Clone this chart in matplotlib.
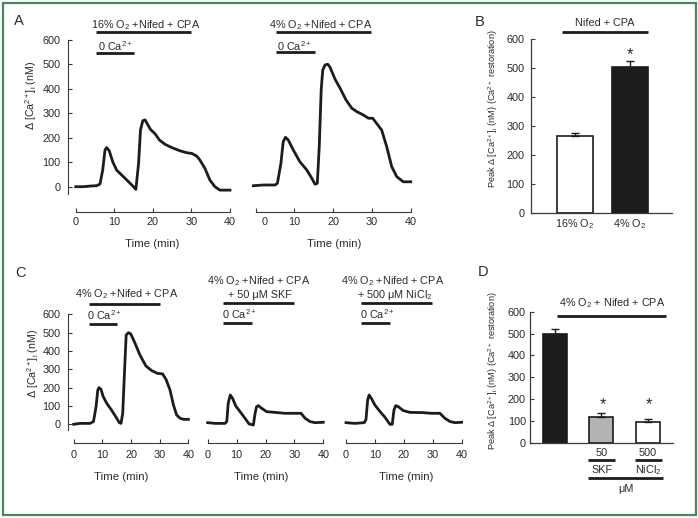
import matplotlib.pyplot as plt
from matplotlib.patches import Rectangle

plt.rcParams['font.family'] = ['Liberation Sans', 'DejaVu Sans']
plt.rcParams['mathtext.fontset'] = 'custom'
plt.rcParams['mathtext.rm'] = 'Liberation Sans'
plt.rcParams['mathtext.it'] = 'Liberation Sans:italic'
plt.rcParams['mathtext.bf'] = 'Liberation Sans:bold'

W, H = 698, 518
INK = '#1c1c1c'
TXT = '#2a2a2a'
AXC = '#3a3a3a'
GREEN = '#3f8a5e'
FS = 7.8

# traces: time (min) and delta [Ca2+]i (nM)
a1_t = [0, 2, 4, 5.4, 6.3, 7.0, 7.6, 8.0, 8.7, 9.6, 10.6, 11.9, 13.4, 14.8, 15.6, 16.3, 16.8, 17.4,
        18.0, 18.6, 19.4, 20.6, 21.7, 23.2, 24.9, 27.0, 28.8, 30.1, 31.4, 32.2, 33.5, 34.8, 36.1, 37.4, 40]
a1_v = [0, 0, 3, 4, 11, 68, 150, 160, 147, 102, 68, 48, 25, 3, -11, 95, 232, 270,
        273, 256, 234, 216, 191, 173, 160, 147, 139, 136, 125, 109, 75, 27, 0, -14, -14]

a2_t = [-0.6, 2, 5, 5.6, 6.5, 7.1, 7.7, 8.4, 9.7, 11.4, 13.2, 14.5, 15.3, 15.9, 16.4, 16.9, 17.3, 17.9,
        18.6, 19.2, 20.5, 21.8, 23.3, 24.8, 26.1, 27.8, 29.1, 30.2, 31.2, 32.5, 33.8, 35.1, 36.4, 38.1, 40]
a2_v = [4, 7, 7, 14, 95, 184, 202, 191, 150, 102, 68, 34, 10, 14, 164, 396, 477, 498,
        501, 488, 439, 402, 355, 321, 307, 293, 280, 280, 259, 232, 164, 82, 41, 20, 20]

c1_t = [0, 2.2, 5.7, 6.9, 7.8, 8.4, 8.8, 9.5, 10.3, 11.5, 13.3, 15.0, 15.9, 16.5, 17.1, 17.7, 18.3,
        19.1, 19.9, 21.4, 23.1, 25.2, 27.2, 29.2, 31.0, 32.2, 33.6, 34.8, 35.9, 37.1, 38.3, 40]
c1_v = [0, 5, 5, 15, 96, 187, 200, 191, 151, 115, 75, 33, 9, 5, 60, 278, 487,
        500, 493, 442, 378, 318, 293, 278, 275, 245, 187, 105, 51, 33, 27, 27]

c2_t = [0, 2.5, 6.0, 6.6, 7.1, 7.8, 8.6, 9.7, 11.2, 12.9, 14.3, 15.8, 16.4, 16.9, 17.5, 18.7, 20.4,
        23.3, 26.7, 29.6, 32.3, 33.7, 35.4, 37.1, 40]
c2_v = [9, 5, 5, 15, 115, 160, 142, 100, 69, 33, 2, -4, 60, 96, 102, 87, 69,
        65, 60, 60, 60, 33, 15, 9, 11]

c3_t = [0, 3.1, 6.3, 6.9, 7.5, 8.0, 8.9, 10.0, 11.8, 13.5, 15.2, 16.0, 16.6, 17.2, 18.1, 19.8,
        22.1, 26.2, 29.6, 32.5, 34.2, 36.0, 37.7, 40]
c3_v = [9, 5, 9, 24, 133, 160, 138, 105, 69, 38, 0, 0, 78, 102, 96, 75,
        65, 64, 60, 60, 33, 15, 9, 11]

# condition windows (min)
drug_win = [5.3, 30.0]
ca_win = [5.3, 15.2]

# peak values (Ca2+ restoration)
b_labels = ['16% O$_2$', '4% O$_2$']
b_vals = [266, 505]
b_err = [12, 20]
b_colors = ['white', INK]

d_vals = [500, 119, 93]
d_err = [22, 15, 15]
d_colors = [INK, '#b3b3b3', 'white']

fig = plt.figure(figsize=(W / 100, H / 100), dpi=100)
fig.patches.append(Rectangle((3 / W, 1 - 515 / H), 693 / W, 512 / H, transform=fig.transFigure,
                             fill=False, ec=GREEN, lw=1.6))


def axes_px(t0, sx, y0, sy, xlim, ylim):
    l = t0 + xlim[0] * sx
    r = t0 + xlim[1] * sx
    top = y0 - ylim[1] * sy
    bot = y0 - ylim[0] * sy
    ax = fig.add_axes([l / W, 1 - bot / H, (r - l) / W, (bot - top) / H])
    ax.set_xlim(xlim)
    ax.set_ylim(ylim)
    ax.patch.set_visible(False)
    return ax


def ptxt(x, y, s, size=FS, **kw):
    kw.setdefault('ha', 'center')
    kw.setdefault('va', 'center')
    fig.text(x / W, 1 - y / H, s, fontsize=size, color=TXT, **kw)


def hbar(ax, x0, x1, ypx, lw=2.0):
    y = ax.transData.inverted().transform((0, H - ypx))[1]
    ax.plot([x0, x1], [y, y], color=INK, lw=lw, clip_on=False, solid_capstyle='butt')


def trace(ax, t, v, yaxis, xpad):
    ax.plot(t, v, color=INK, lw=2.0, solid_joinstyle='round')
    for s in ['top', 'right']:
        ax.spines[s].set_visible(False)
    for s in ['left', 'bottom']:
        ax.spines[s].set_color(AXC)
        ax.spines[s].set_linewidth(0.8)
    ax.spines['bottom'].set_bounds(0, 40)
    ax.set_xticks([0, 10, 20, 30, 40])
    ax.tick_params(axis='x', direction='in', length=3, width=0.8, color=AXC,
                   pad=xpad, labelsize=FS, labelcolor=TXT)
    if yaxis:
        ax.spines['left'].set_bounds(-30, 600)
        ax.set_yticks(range(0, 601, 100))
        ax.tick_params(axis='y', direction='in', length=3, width=0.8, color=AXC,
                       pad=5.5, labelsize=FS, labelcolor=TXT)
    else:
        ax.spines['left'].set_visible(False)
        ax.set_yticks([])


def bars(ax, vals, err, colors, ypad):
    x = list(range(len(vals)))
    ax.bar(x, vals, width=ax.bar_w, color=colors, edgecolor=INK, linewidth=1.2,
           yerr=[[0] * len(vals), err], error_kw=dict(ecolor=INK, elinewidth=1.0, capsize=3, capthick=1.0))
    for s in ['top', 'right']:
        ax.spines[s].set_visible(False)
    for s in ['left', 'bottom']:
        ax.spines[s].set_color(AXC)
        ax.spines[s].set_linewidth(0.9)
    ax.set_yticks(range(0, 601, 100))
    ax.tick_params(axis='y', direction='in', length=3, width=0.8, color=AXC,
                   pad=ypad, labelsize=FS, labelcolor=TXT)
    ax.tick_params(axis='x', length=0, labelsize=FS, labelcolor=TXT)


ylab = 'Δ [Ca$^{2+}$]$_\\mathrm{i}$ (nM)'
peak_lab = 'Peak Δ [Ca$^{2+}$]$_\\mathrm{i}$ (nM) (Ca$^{2+}$ restoration)'

# ---- A ----
a1 = axes_px(75.7, 3.857, 186.7, 0.2445, (-1.9, 41), (-103.5, 600))
trace(a1, a1_t, a1_v, True, 3.4)
a2 = axes_px(255.7, 3.875, 186.7, 0.2445, (-1.9, 41), (-103.5, 600))
trace(a2, a2_t, a2_v, False, 3.4)
a2.set_xticklabels(['', '10', '20', '30', '40'])
ptxt(265, 217.4, '0', va='top')

ptxt(19, 21, 'A', size=10.5)
ptxt(145.7, 25, '16% O$_2$ +Nifed + CPA')
hbar(a1, drug_win[0], drug_win[1], 32)
ptxt(115, 46.5, '0 Ca$^{2+}$')
hbar(a1, ca_win[0], ca_win[1], 53)
ptxt(152, 244, 'Time (min)', size=8.2)
ptxt(31, 95, ylab, size=7.7, rotation=90)

ptxt(321, 25, '4% O$_2$ +Nifed + CPA')
hbar(a2, drug_win[0], drug_win[1] - 0.2, 32.3)
ptxt(294, 46.5, '0 Ca$^{2+}$')
hbar(a2, ca_win[0], ca_win[1], 52.3)
ptxt(334, 244, 'Time (min)', size=8.2)

# ---- B ----
b = axes_px(575, 54.7, 213.3, 0.2905, (-0.81, 1.77), (0, 600))
b.bar_w = 0.665
bars(b, b_vals, b_err, b_colors, 4.5)
b.set_xticks([0, 1])
b.set_xticklabels(b_labels)
b.tick_params(axis='x', pad=3)
ptxt(480, 22, 'B', size=10.5)
ptxt(605, 23.3, 'Nifed + CPA')
hbar(b, -0.243, 1.33, 32.3)
ptxt(629.7, 59.5, '*', size=12, va='baseline')
ptxt(493, 109, peak_lab, size=6.6, rotation=90)

# ---- C ----
c1 = axes_px(73.7, 2.867, 424.3, 0.1833, (-1.9, 41), (-102, 600))
trace(c1, c1_t, c1_v, True, 4.8)
c2 = axes_px(207.7, 2.89, 424.3, 0.1833, (-1.9, 41), (-102, 600))
trace(c2, c2_t, c2_v, False, 4.8)
c3 = axes_px(346, 2.89, 424.3, 0.1833, (-1.9, 41), (-102, 600))
trace(c3, c3_t, c3_v, False, 4.8)

ptxt(20.5, 273, 'C', size=10.5)
ptxt(126.3, 294.3, '4% O$_2$ +Nifed + CPA')
hbar(c1, drug_win[0], drug_win[1], 304)
ptxt(104.5, 315, '0 Ca$^{2+}$')
hbar(c1, ca_win[0], ca_win[1], 324)
ptxt(121.5, 476.7, 'Time (min)', size=8.2)
ptxt(33.3, 363, ylab, size=7.7, rotation=90)

ptxt(258.5, 280.7, '4% O$_2$ +Nifed + CPA')
ptxt(259.5, 295, '+ 50 μM SKF')
hbar(c2, drug_win[0], drug_win[1] - 0.2, 303.3)
ptxt(239.5, 314, '0 Ca$^{2+}$')
hbar(c2, ca_win[0], ca_win[1], 323.3)
ptxt(261, 476.7, 'Time (min)', size=8.2)

ptxt(392.7, 280.7, '4% O$_2$ +Nifed + CPA')
ptxt(394.7, 295, '+ 500 μM NiCl$_2$')
hbar(c3, drug_win[0], drug_win[1] - 0.2, 303.3)
ptxt(377, 314, '0 Ca$^{2+}$')
hbar(c3, ca_win[0], ca_win[1], 323.3)
ptxt(406, 476.7, 'Time (min)', size=8.2)

# ---- D ----
d = axes_px(554.7, 46.6, 442.7, 0.2183, (-0.53, 2.547), (0, 600))
d.bar_w = 0.515
bars(d, d_vals, d_err, d_colors, 3)
d.set_xticks([])
ptxt(483, 272, 'D', size=10.5)
ptxt(611.7, 302.7, '4% O$_2$ + Nifed + CPA')
hbar(d, 0.043, 2.39, 316)
ptxt(602.7, 409.5, '*', size=12, va='baseline')
ptxt(649, 409.5, '*', size=12, va='baseline')
ptxt(601.7, 452.7, '50')
hbar(d, 0.708, 1.294, 460)
ptxt(601.7, 470, 'SKF')
ptxt(647.7, 452.7, '500')
hbar(d, 1.72, 2.294, 460)
ptxt(648.7, 470, 'NiCl$_2$')
hbar(d, 0.708, 2.33, 478.3)
ptxt(625.7, 489.3, 'μM')
ptxt(493, 371, peak_lab, size=6.6, rotation=90)

fig.savefig('out.png', dpi=100)
